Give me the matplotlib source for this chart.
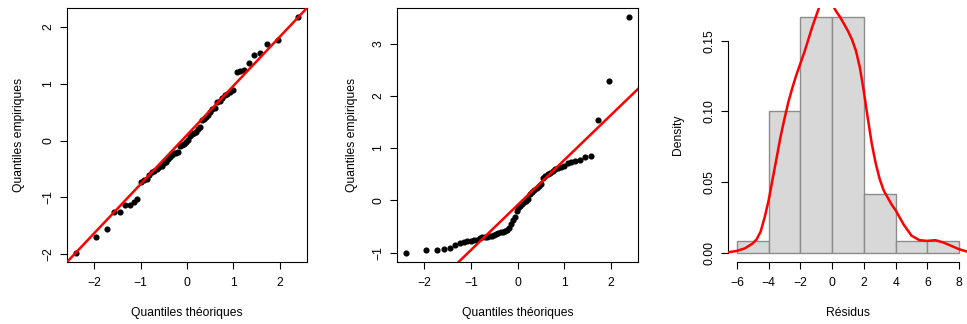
import statistics
import matplotlib
matplotlib.use('Agg')
import matplotlib.pyplot as plt

# sorted residuals (n = 60 each)
qq1_y = [-1.97, -1.69, -1.56, -1.26, -1.26, -1.14, -1.13, -1.08, -1.02, -0.73,
         -0.70, -0.68, -0.60, -0.55, -0.54, -0.49, -0.46, -0.44, -0.40, -0.37,
         -0.32, -0.29, -0.25, -0.22, -0.21, -0.20, -0.10, -0.07, -0.05, -0.03,
         0.02, 0.09, 0.12, 0.14, 0.15, 0.20, 0.24, 0.36, 0.38, 0.41,
         0.45, 0.50, 0.55, 0.57, 0.68, 0.70, 0.75, 0.80, 0.83, 0.85,
         0.89, 1.21, 1.23, 1.25, 1.37, 1.51, 1.55, 1.71, 1.78, 2.17]
qq2_y = [-1.00, -0.955, -0.955, -0.94, -0.92, -0.85, -0.81, -0.80, -0.78, -0.77,
         -0.76, -0.75, -0.73, -0.71, -0.70, -0.70, -0.69, -0.68, -0.665, -0.65,
         -0.62, -0.61, -0.60, -0.58, -0.56, -0.53, -0.46, -0.38, -0.32, -0.20,
         -0.15, -0.11, -0.07, -0.04, -0.02, 0.02, 0.12, 0.15, 0.20, 0.24,
         0.28, 0.32, 0.43, 0.47, 0.51, 0.53, 0.56, 0.59, 0.61, 0.63,
         0.65, 0.72, 0.74, 0.75, 0.78, 0.83, 0.85, 1.53, 2.28, 3.50]
# qqline (intercept, slope) as drawn
qq1_line = (0.10, 0.865)
qq2_line = (-0.092, 0.86)

# histogram of the residuals
hist_breaks = [-6, -4, -2, 0, 2, 4, 6, 8]
hist_counts = [1, 12, 20, 20, 5, 1, 1]

# kernel density curve
dens_x = [-7.0, -6.5, -6.0, -5.5, -5.0, -4.75, -4.5, -4.25, -4.0, -3.75, -3.5,
          -3.25, -3.0, -2.75, -2.5, -2.25, -2.0, -1.75, -1.5, -1.25, -1.0,
          -0.75, -0.5, -0.25, 0.0, 0.25, 0.5, 0.75, 1.0, 1.25, 1.5, 1.75, 2.0,
          2.25, 2.5, 2.75, 3.0, 3.25, 3.5, 3.75, 4.0, 4.25, 4.5, 4.75, 5.0,
          5.5, 6.0, 6.5, 7.0, 7.5, 8.0, 8.5, 9.0]
dens_y = [0.0, 0.0003, 0.0012, 0.003, 0.0065, 0.0095, 0.015, 0.025, 0.037,
          0.052, 0.067, 0.082, 0.095, 0.107, 0.117, 0.126, 0.134, 0.142, 0.151,
          0.160, 0.168, 0.176, 0.181, 0.181, 0.176, 0.171, 0.167, 0.162, 0.157,
          0.151, 0.143, 0.131, 0.114, 0.095, 0.077, 0.063, 0.052, 0.044, 0.039,
          0.034, 0.030, 0.025, 0.020, 0.016, 0.012, 0.0088, 0.0083, 0.0088,
          0.0072, 0.0048, 0.0024, 0.0007, 0.0]

plt.rcParams['font.family'] = ['Liberation Sans', 'DejaVu Sans']
plt.rcParams['font.size'] = 8.7

W, H = 967, 324
fig = plt.figure(figsize=(W / 100, H / 100), dpi=100)


def px_axes(left, right, top, bottom):
    return fig.add_axes([left / W, (H - bottom) / H, (right - left) / W, (bottom - top) / H])


def style_ticks(ax):
    ax.tick_params(axis='both', direction='out', length=4.8, width=0.8, color='black')
    ax.tick_params(axis='x', pad=6.0)
    ax.tick_params(axis='y', pad=4.5, labelrotation=90)
    for lab in ax.get_yticklabels():
        lab.set_va('center')


def qq_panel(ax, y, line, yticks, ylab_x):
    n = len(y)
    nd = statistics.NormalDist()
    x = [nd.inv_cdf((i + 0.5) / n) for i in range(n)]
    ax.plot(x, y, 'o', color='black', markersize=3.4, zorder=3)
    ax.axline((0, line[0]), slope=line[1], color='red', lw=1.8, zorder=4)
    xr = max(x) - min(x)
    ax.set_xlim(min(x) - 0.04 * xr, max(x) + 0.04 * xr)
    yr = max(y) - min(y)
    ax.set_ylim(min(y) - 0.04 * yr, max(y) + 0.04 * yr)
    ax.set_xticks([-2, -1, 0, 1, 2])
    ax.set_yticks(yticks)
    for s in ax.spines.values():
        s.set_linewidth(0.8)
    style_ticks(ax)
    ax.set_xlabel('Quantiles théoriques', va='center')
    ax.xaxis.set_label_coords(0.5, -0.20)
    ax.set_ylabel('Quantiles empiriques', va='center')
    ax.yaxis.set_label_coords(ylab_x, 0.5)


ax1 = px_axes(67, 307, 8, 262)
qq_panel(ax1, qq1_y, qq1_line, [-2, -1, 0, 1, 2], -0.202)

ax2 = px_axes(397, 638, 8, 262)
qq_panel(ax2, qq2_y, qq2_line, [-1, 0, 1, 2, 3], -0.188)

# histogram panel
ax3 = px_axes(728, 968, 8, 262)
n = sum(hist_counts)
widths = [b - a for a, b in zip(hist_breaks[:-1], hist_breaks[1:])]
dens = [c / (n * w) for c, w in zip(hist_counts, widths)]
ax3.bar(hist_breaks[:-1], dens, width=widths, align='edge', color='#d8d8d8',
        edgecolor='#8c8c8c', linewidth=1.0, zorder=2)
ax3.plot(dens_x, dens_y, color='red', lw=1.8, zorder=3)
xr = hist_breaks[-1] - hist_breaks[0]
ax3.set_xlim(hist_breaks[0] - 0.04 * xr, hist_breaks[-1] + 0.04 * xr)
ymax = max(dens)
ax3.set_ylim(-0.04 * ymax, ymax * 1.04)
ax3.set_xticks(hist_breaks)
ax3.set_yticks([0, 0.05, 0.10, 0.15])
ax3.set_yticklabels(['0.00', '0.05', '0.10', '0.15'])
ax3.spines['top'].set_visible(False)
ax3.spines['right'].set_visible(False)
ax3.spines['left'].set_bounds(0, 0.15)
ax3.spines['bottom'].set_bounds(hist_breaks[0], hist_breaks[-1])
ax3.spines['left'].set_linewidth(0.8)
ax3.spines['bottom'].set_linewidth(0.8)
style_ticks(ax3)
ax3.set_xlabel('Résidus', va='center')
ax3.xaxis.set_label_coords(0.5, -0.20)
ax3.set_ylabel('Density', va='center')
ax3.yaxis.set_label_coords(-0.208, 0.5)

fig.savefig('out.png', dpi=100)
